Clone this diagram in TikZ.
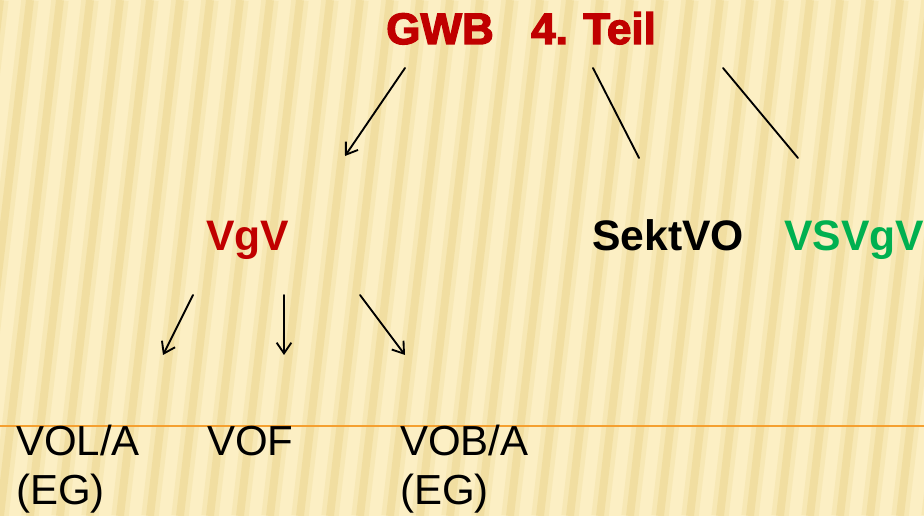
\documentclass[tikz,border=0pt]{standalone}
\usepackage{fontspec}
\setmainfont{Liberation Sans}
\newfontfamily\heavyfont{Liberation Sans}[BoldFeatures={FakeBold=3}]
\usetikzlibrary{arrows.meta}
\definecolor{paper}{HTML}{FCEFC4}
\definecolor{stripe}{HTML}{EBD48A}
\definecolor{darkred}{HTML}{C00000}
\definecolor{vsgreen}{HTML}{00B050}
\definecolor{rulecol}{HTML}{F5A030}
\tikzset{
  head/.style={font=\heavyfont\bfseries\fontsize{33}{40}\selectfont, inner sep=0, anchor=base west},
  sub/.style={font=\bfseries\fontsize{32}{38}\selectfont, inner sep=0, anchor=base west},
  leaf/.style={font=\fontsize{31.5}{36.75}\selectfont, inner sep=0, anchor=base west, align=left},
  link/.style={line width=1.4pt, line cap=round},
  >={Straight Barb[length=8pt,width=11pt]}
}
\begin{document}
\begin{tikzpicture}[x=0.75pt,y=-0.75pt]
\def\bgrect{(0,0) rectangle (924,516)}
\useasboundingbox \bgrect;
\fill[paper] \bgrect;
    \begin{scope}
      \clip \bgrect;
      \foreach \x in {-90,-60,...,960}
        {\draw[stripe, line width=13pt, opacity=.25] (\x,516) -- ++(60,-516);
         \draw[stripe, line width=6pt, opacity=.45] (\x,516) -- ++(60,-516);}
    \end{scope}
\draw[rulecol, line width=1.1pt] (0,426) -- (924,426);
% titles
\node[head, darkred] (gwb) at (386,44) {GWB\hspace{0.85em}4.\hspace{0.35em}Teil};
\node[sub, darkred] (vgv) at (206,251) {VgV};
\node[sub] (sektvo) at (592,251) {SektVO};
\node[sub, vsgreen] (vsvgv) at (784,251) {VSVgV};
% leaves (base = last line)
\node[leaf] (vola) at (16,504) {VOL/A\\(EG)};
\node[leaf] (vof) at (207,455) {VOF};
\node[leaf] (voba) at (400,504) {VOB/A\\(EG)};
% connectors
\coordinate (gwbl) at (405,68);
\coordinate (gwbm) at (593,68);
\coordinate (gwbr) at (723,68);
\coordinate (vgvtop) at (345,156);
\coordinate (sektvotop) at (639,158);
\coordinate (vsvgvtop) at (798,158);
\draw[link,->] (gwbl) -- (vgvtop);
\draw[link] (gwbm) -- (sektvotop);
\draw[link] (gwbr) -- (vsvgvtop);
\coordinate (vgvl) at (193,295);
\coordinate (vgvm) at (284,295);
\coordinate (vgvr) at (360,295);
\coordinate (volatop) at (163,355);
\coordinate (voftop) at (284,355);
\coordinate (vobatop) at (405,355);
\draw[link,->] (vgvl) -- (volatop);
\draw[link,->] (vgvm) -- (voftop);
\draw[link,->] (vgvr) -- (vobatop);
\end{tikzpicture}
\end{document}
